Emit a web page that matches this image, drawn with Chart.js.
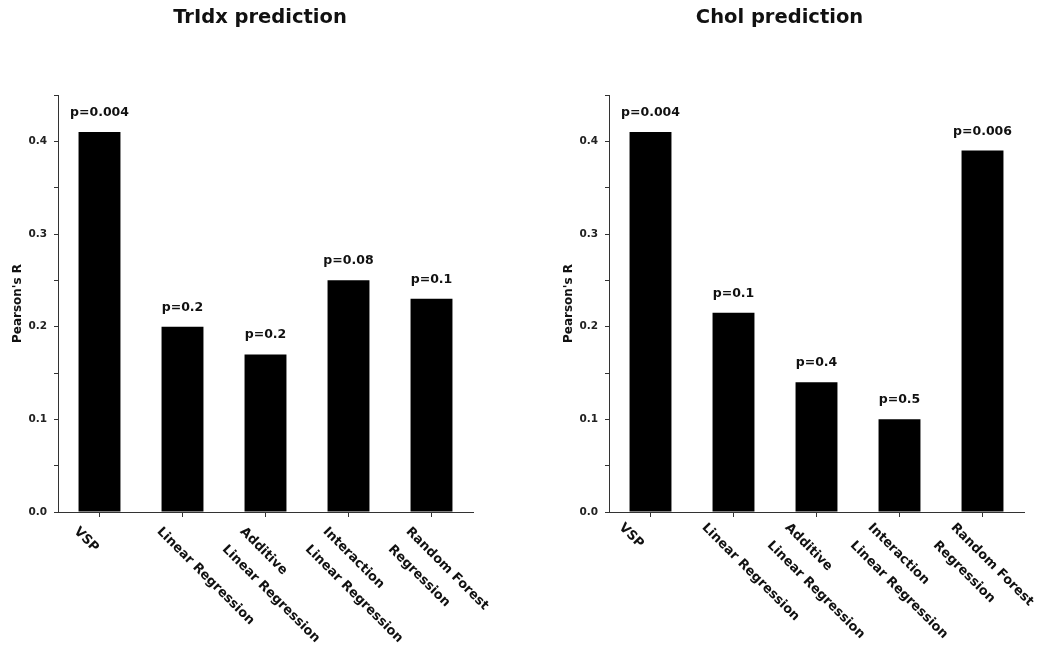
<!DOCTYPE html>
<html>
<head>
<meta charset="utf-8">
<script src="https://cdn.jsdelivr.net/npm/chart.js@4"></script>
<style>
  body { margin: 0; background: #fff; }
  canvas { position: absolute; top: 0; }
</style>
</head>
<body>
<canvas id="trIdxChart" width="520" height="648" style="left:0"></canvas>
<canvas id="cholChart" width="519" height="648" style="left:520px"></canvas>
<script>
// model names, multi-line labels as arrays
const categories = [
    'VSP',
    'Linear Regression',
    ['Additive', 'Linear Regression'],
    ['Interaction', 'Linear Regression'],
    ['Random Forest', 'Regression'],
];

const trIdxValues = [0.41, 0.2, 0.17, 0.25, 0.23];
const trIdxPValues = ['p=0.004', 'p=0.2', 'p=0.2', 'p=0.08', 'p=0.1'];

const cholValues = [0.41, 0.215, 0.14, 0.1, 0.39];
const cholPValues = ['p=0.004', 'p=0.1', 'p=0.4', 'p=0.5', 'p=0.006'];

const yMax = 0.45;
const yStep = 0.05;

const FONT = "'DejaVu Sans', sans-serif";
const TEXT = '#111';
const AXIS = '#333';

// title, p-values over the bars + rotated category labels under the axis
const annotate = {
    id: 'annotate',
    afterDraw(chart, args, opts) {
        const ctx = chart.ctx;
        const bars = chart.getDatasetMeta(0).data;
        ctx.save();
        ctx.fillStyle = TEXT;

        // title centred on the whole panel, not the plot area
        ctx.font = 'bold 19.5px ' + FONT;
        ctx.textAlign = 'center';
        ctx.textBaseline = 'middle';
        ctx.fillText(opts.title, chart.width / 2, 18);

        ctx.font = 'bold 12.5px ' + FONT;
        ctx.textBaseline = 'alphabetic';
        bars.forEach((bar, i) => {
            ctx.fillText(opts.pValues[i], bar.x, bar.y - 16);
        });

        const xScale = chart.scales.x;
        ctx.font = 'bold 13px ' + FONT;
        ctx.textAlign = 'left';
        ctx.textBaseline = 'top';
        categories.forEach((label, i) => {
            const lines = Array.isArray(label) ? label : [label];
            const x = xScale.getPixelForTick(i);
            ctx.save();
            ctx.translate(x + opts.labelDx, xScale.top + opts.labelDy);
            ctx.rotate(Math.PI / 4);
            lines.forEach((line, j) => ctx.fillText(line, 0, j * 25));
            ctx.restore();
        });
        ctx.restore();
    }
};

const makeChart = (id, title, values, pValues, setup) => {
    return new Chart(document.getElementById(id), {
        type: 'bar',
        data: {
            labels: categories,
            datasets: [{
                data: values,
                backgroundColor: '#000',
                borderWidth: 0,
                barPercentage: 1,
                categoryPercentage: 0.505,
            }],
        },
        plugins: [annotate],
        options: {
            responsive: false,
            animation: false,
            devicePixelRatio: 1,
            layout: { padding: { left: 0, right: setup.padRight, top: 95, bottom: 0 } },
            plugins: {
                legend: { display: false },
                tooltip: { enabled: false },
                title: { display: false },
                annotate: {
                    title: title,
                    pValues: pValues,
                    labelDx: setup.labelDx,
                    labelDy: setup.labelDy,
                },
            },
            scales: {
                x: {
                    afterFit: (scale) => { scale.height = 136; },
                    grid: {
                        offset: false,
                        drawOnChartArea: false,
                        drawTicks: true,
                        tickLength: 5,
                        tickColor: AXIS,
                    },
                    border: { color: AXIS, width: 1 },
                    ticks: { display: false },
                },
                y: {
                    min: 0,
                    max: yMax,
                    afterFit: (scale) => { scale.width = setup.yWidth; },
                    grid: {
                        drawOnChartArea: false,
                        drawTicks: true,
                        tickLength: 4,
                        tickColor: AXIS,
                    },
                    border: { color: AXIS, width: 1 },
                    ticks: {
                        stepSize: yStep,
                        padding: 7,
                        color: '#222',
                        font: { family: FONT, size: 10.5, weight: 'bold' },
                        callback: (v) => {
                            const t = v * 10;
                            return Math.abs(t - Math.round(t)) < 1e-6 ? v.toFixed(1) : '';
                        },
                    },
                    title: {
                        display: true,
                        text: "Pearson's R",
                        color: TEXT,
                        font: { family: FONT, size: 12, weight: 'bold' },
                        padding: { top: setup.titlePad, bottom: 0 },
                    },
                },
            },
        },
    });
};

makeChart('trIdxChart', 'TrIdx prediction', trIdxValues, trIdxPValues,
    { yWidth: 58, padRight: 47, titlePad: 11, labelDx: -19, labelDy: 13 });
makeChart('cholChart', 'Chol prediction', cholValues, cholPValues,
    { yWidth: 89, padRight: 15, titlePad: 42, labelDx: -25, labelDy: 9 });
</script>
</body>
</html>
